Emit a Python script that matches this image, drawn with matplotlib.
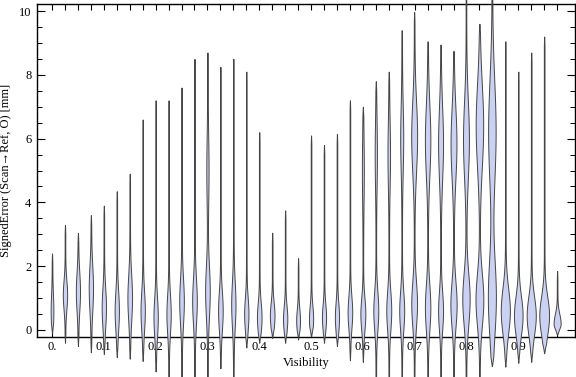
import numpy as np
import matplotlib
matplotlib.use('Agg')
import matplotlib.pyplot as plt
from matplotlib.ticker import FixedLocator, FixedFormatter, MultipleLocator

# ---- data ----
visibility = [round(0.025 * k, 3) for k in range(40)]
err_min = [-0.1, -0.4, -0.5, -0.7, -0.75, -0.85, -0.9, -0.97, -1.3, -2.0,
           -2.0, -2.0, -2.0, -1.2, -2.0, -0.55, -0.4, -0.25, -0.4, -0.3,
           -0.2, -0.4, -0.5, -0.95, -1.0, -2.0, -2.0, -2.0, -2.0, -2.0,
           -2.0, -2.0, -2.0, -2.0, -1.15, -1.15, -1.03, -1.0, -0.73, -0.15]
err_max = [2.4, 3.3, 3.05, 3.6, 3.9, 4.35, 4.9, 6.6, 7.2, 7.2,
           7.6, 8.5, 8.7, 8.25, 8.5, 8.1, 6.2, 3.05, 3.75, 2.25,
           6.1, 5.8, 6.15, 7.2, 7.0, 7.8, 8.1, 9.4, 9.95, 9.05,
           8.95, 8.75, 10.8, 9.6, 10.8, 9.05, 8.1, 8.7, 9.2, 1.85]
# main (low) density mode, its relative density and spread
mode_low = [0.6, 1.1, 1.2, 1.3, 0.7, 0.6, 1.0, 0.6, 0.4, 0.5,
            0.9, 0.9, 1.2, 0.6, 0.8, 0.5, 0.4, 0.45, 0.35, 0.3,
            0.35, 0.4, 0.4, 0.55, 0.5, 0.6, 0.6, 0.6, 0.8, 0.7,
            0.6, 0.8, 0.95, 0.95, 1.0, 0.6, 0.45, 0.45, 0.45, 0.2]
dens_low = [1.3, 2.3, 2.2, 2.3, 2.3, 2.3, 2.5, 2.3, 2.3, 2.3,
            2.5, 2.5, 2.5, 2.5, 2.3, 2.3, 2.5, 2.5, 2.3, 2.0,
            2.2, 2.2, 2.2, 2.5, 2.7, 2.7, 2.7, 2.7, 3.2, 3.0,
            2.7, 3.5, 4.2, 4.5, 4.6, 5.3, 5.0, 5.3, 5.7, 4.0]
spread_low = [0.5, 0.45, 0.6, 0.7, 0.6, 0.6, 0.7, 0.6, 0.6, 0.6,
              0.7, 0.7, 0.8, 0.6, 0.7, 0.5, 0.45, 0.4, 0.4, 0.35,
              0.4, 0.4, 0.45, 0.5, 0.5, 0.6, 0.6, 0.6, 0.7, 0.7,
              0.6, 0.7, 0.8, 0.8, 1.2, 0.7, 0.6, 0.6, 0.6, 0.3]
# secondary (high) density mode
mode_high = [0] * 12 + [5.0] + [0] * 11 + [5.0, 5.5, 5.5, 6.0, 6.05, 5.95,
             5.85, 5.85, 5.95, 6.4, 6.2, 0, 0, 0, 0, 0]
dens_high = [0] * 12 + [1.0] + [0] * 11 + [0.8, 1.0, 1.2, 1.5, 3.3, 3.0,
             2.7, 3.3, 3.3, 4.3, 4.3, 0, 0, 0, 0, 0]
spread_high = [1.0] * 12 + [1.0] + [1.0] * 11 + [1.0, 1.0, 1.0, 1.0, 1.1, 1.1,
               1.1, 1.1, 1.2, 1.3, 1.6, 1.0, 1.0, 1.0, 1.0, 1.0]

x_ticks_labeled = [0.0, 0.1, 0.2, 0.3, 0.4, 0.5, 0.6, 0.7, 0.8, 0.9]
x_tick_text = ['0.', '0.1', '0.2', '0.3', '0.4', '0.5', '0.6', '0.7', '0.8', '0.9']
y_ticks = [0, 2, 4, 6, 8, 10]

# ---- style ----
plt.rcParams['font.family'] = ['Liberation Serif', 'DejaVu Serif']
FILL = '#cbd1f3'
EDGE = '#454545'
SCALE = 0.8 * 0.025 / 12.95   # relative density -> half width (data units)
BASE = 0.4

fig = plt.figure(figsize=(5.76, 3.77), dpi=100)
ax = fig.add_axes([37 / 576, 40 / 377, 538 / 576, 333 / 377])
ax.set_xlim(-0.029, 1.0095)
ax.set_ylim(-0.22, 10.22)

for i, xv in enumerate(visibility):
    lo, hi = err_min[i], err_max[i]
    y = np.linspace(lo, hi, 500)
    w = dens_low[i] * np.exp(-0.5 * ((y - mode_low[i]) / spread_low[i]) ** 2)
    if dens_high[i] > 0:
        w = w + dens_high[i] * np.exp(-0.5 * ((y - mode_high[i]) / spread_high[i]) ** 2)
    w = w + BASE
    taper = np.clip(np.minimum(y - lo, hi - y) / 0.3, 0, 1) ** 0.7
    hw = w * taper * SCALE
    ax.fill_betweenx(y, xv - hw, xv + hw, facecolor=FILL, edgecolor=EDGE,
                     linewidth=0.7, clip_on=False, zorder=3)

for s in ax.spines.values():
    s.set_linewidth(1.0)
    s.set_color('black')

ax.xaxis.set_major_locator(FixedLocator(visibility))
ax.xaxis.set_major_formatter(FixedFormatter(
    [x_tick_text[x_ticks_labeled.index(v)] if v in x_ticks_labeled else '' for v in visibility]))
ax.yaxis.set_major_locator(FixedLocator(y_ticks))
ax.yaxis.set_minor_locator(MultipleLocator(0.5))

ax.tick_params(axis='x', which='major', direction='in', length=4, width=0.8,
               top=True, bottom=True, labelsize=9, pad=3, colors='black')
ax.tick_params(axis='y', which='major', direction='in', length=6, width=0.8,
               left=True, right=True, labelsize=9, pad=4, colors='black')
ax.tick_params(axis='y', which='minor', direction='in', length=3.5, width=0.7,
               left=True, right=True)

ax.set_xlabel('Visibility', fontsize=9, labelpad=3)
ax.set_ylabel('SignedError (Scan\u2192Ref, O) [mm]', fontsize=9, labelpad=5)

fig.savefig('out.png', dpi=100)
